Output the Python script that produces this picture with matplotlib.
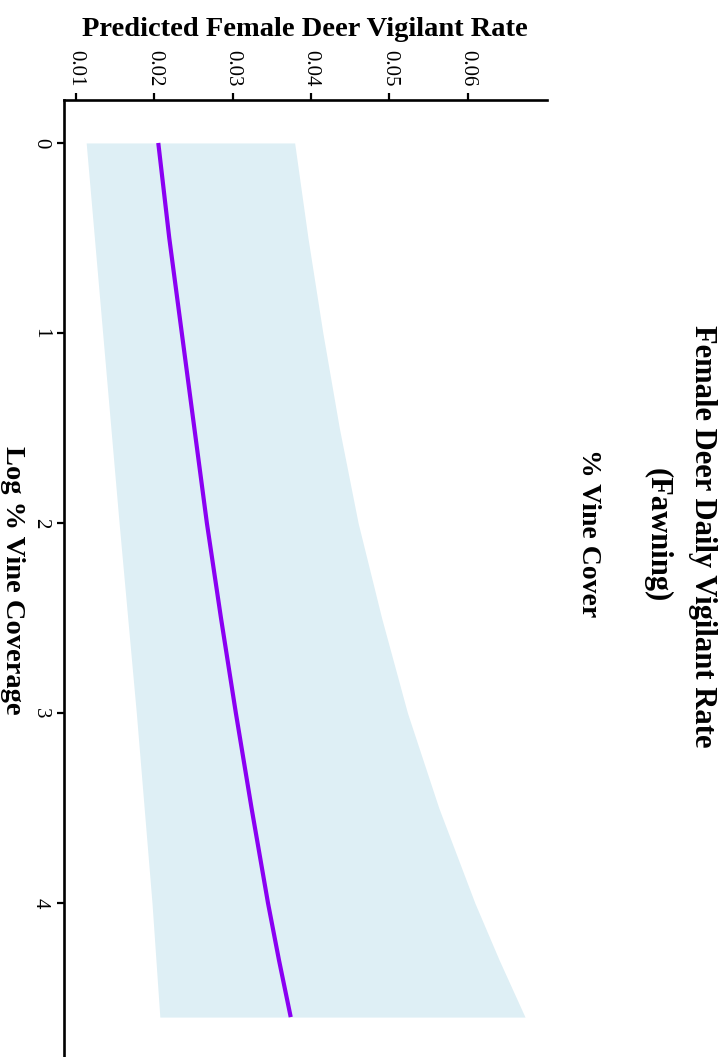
# Predicted female deer vigilant rate vs log % vine cover (drawn sideways)
import matplotlib
matplotlib.use("Agg")
import matplotlib.pyplot as plt

# Data
vine = [0, 0.5, 1, 1.5, 2, 2.5, 3, 3.5, 4, 4.3, 4.6]          # Log % vine coverage
rate = [0.0205, 0.0219, 0.0235, 0.0251, 0.0267, 0.0285, 0.0304, 0.0324, 0.0345, 0.0359, 0.0374]
lower = [0.0113, 0.01235, 0.0134, 0.01445, 0.0155, 0.0166, 0.0177, 0.0187, 0.0197, 0.0202, 0.0207]
upper = [0.0379, 0.0396, 0.0415, 0.0436, 0.0460, 0.0490, 0.0523, 0.0563, 0.0609, 0.0640, 0.0673]
rateTicks = [0.01, 0.02, 0.03, 0.04, 0.05, 0.06]
rateLabels = ["0.01", "0.02", "0.03", "0.04", "0.05", "0.06"]
vineTicks = [0, 1, 2, 3, 4]

serif = ["Liberation Serif", "DejaVu Serif"]
plt.rcParams['font.family'] = serif

W, H = 723, 1057
fig = plt.figure(figsize=(W / 100, H / 100), dpi=100)

# Axes box in pixels (left, top spine, right end)
left, top, right = 64, 100, 547
ax = fig.add_axes([left / W, 0, (right - left) / W, 1 - top / H])

ax.fill_betweenx(vine, lower, upper, color="#DEEFF5", linewidth=0)
ax.plot(rate, vine, color="#8A00F2", linewidth=3.0, solid_capstyle="butt")

ax.set_xlim(0.00847, 0.0701)
ax.set_ylim(4.81, -0.226)

ax.spines['right'].set_visible(False)
ax.spines['bottom'].set_visible(False)
for s in ('left', 'top'):
    ax.spines[s].set_linewidth(1.9)

ax.xaxis.set_ticks_position('top')
ax.set_xticks(rateTicks)
ax.set_xticklabels(rateLabels, rotation=-90)
ax.set_yticks(vineTicks)
ax.set_yticklabels([str(v) for v in vineTicks], rotation=-90, va='center')
ax.tick_params(axis='both', direction='out', length=5, width=1.6,
               labelsize=15, colors='black')
ax.tick_params(axis='x', pad=4.5)
ax.tick_params(axis='y', pad=5)

# Axis titles
fig.text(305 / W, 1 - 36 / H, "Predicted Female Deer Vigilant Rate",
         ha='center', va='baseline', fontsize=20.5, fontweight='bold')
fig.text(12 / W, 1 - 580 / H, "Log % Vine Coverage", rotation=-90,
         ha='center', va='center', fontsize=20.5, fontweight='bold')

# Title and subtitle
fig.text(702 / W, 1 - 536 / H, "Female Deer Daily Vigilant Rate", rotation=-90,
         ha='center', va='center', fontsize=22, fontweight='bold')
fig.text(657 / W, 1 - 535 / H, "(Fawning)", rotation=-90,
         ha='center', va='center', fontsize=22, fontweight='bold')
fig.text(588 / W, 1 - 533 / H, "% Vine Cover", rotation=-90,
         ha='center', va='center', fontsize=20, fontweight='bold')

fig.savefig("out.png", dpi=100)
